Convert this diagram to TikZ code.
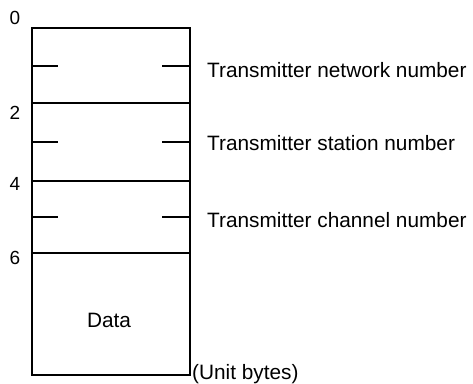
\documentclass[tikz,border=0pt]{standalone}
\usepackage{fontspec}
\setmainfont{Liberation Sans}
\begin{document}
\begin{tikzpicture}[x=1pt,y=-1pt,
  frame/.style={line width=1.6pt},
  tick/.style={line width=1.3pt},
  lbl/.style={font=\fontsize{20.8}{24}\selectfont, inner sep=0pt},
  num/.style={font=\fontsize{19}{21}\selectfont, inner sep=0pt}]
\useasboundingbox (0,0) rectangle (473,383);
\coordinate (tl) at (32,28);
\coordinate (br) at (190,375);
\draw[frame] (tl) rectangle (br);
\draw[frame] (32,103) -- (190,103);
\draw[frame] (32,181) -- (190,181);
\draw[frame] (32,253) -- (190,253);
\foreach \y in {66,142,217} {
  \draw[tick] (32,\y) -- (58,\y);
  \draw[tick] (162,\y) -- (190,\y);
}
\node[num] (n0) at (15,18) {0};
\node[num] (n2) at (15,113) {2};
\node[num] (n4) at (15,184) {4};
\node[num] (n6) at (15,258) {6};
\node[lbl] (data) at (109,320) {Data};
\node[lbl, anchor=west] (l1) at (207,70) {Transmitter network number};
\node[lbl, anchor=west] (l2) at (207,143) {Transmitter station number};
\node[lbl, anchor=west] (l3) at (207,220) {Transmitter channel number};
\node[lbl, anchor=west] (unit) at (192,374) {(Unit bytes)};
\end{tikzpicture}
\end{document}
